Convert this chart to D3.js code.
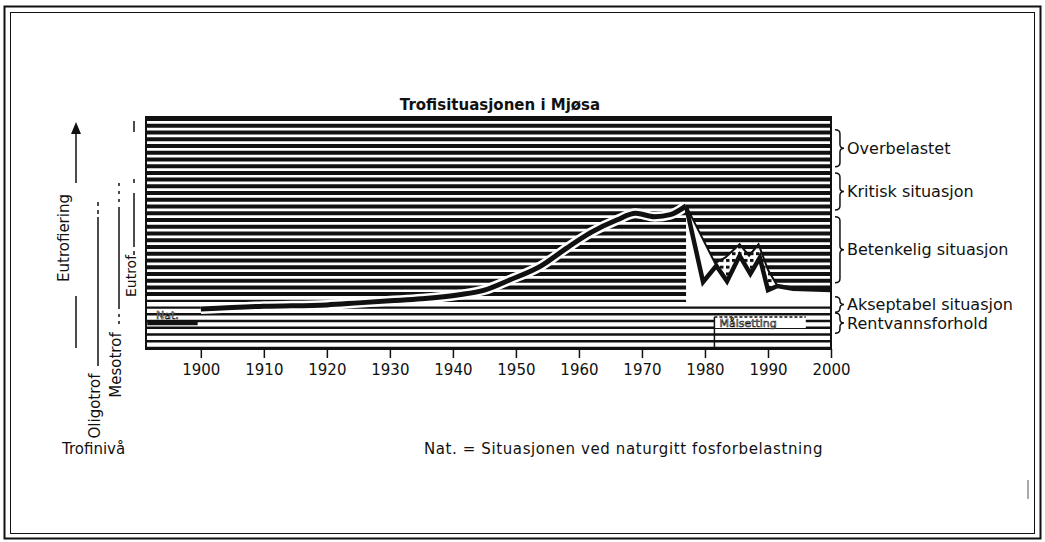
<!DOCTYPE html>
<html>
<head>
<meta charset="utf-8">
<script src="https://cdn.jsdelivr.net/npm/d3@7"></script>
<style>
  body { margin: 0; background: #fff; }
  svg { display: block; }
  text { font-family: "DejaVu Sans", sans-serif; fill: #111; }
</style>
</head>
<body>
<div id="chart"></div>
<script>
// Trophic state of lake Mjøsa.
// y values are in "hatch row" units (0 = bottom row, 34 = top row).
var years   = [1900, 1910, 1920, 1925, 1930, 1935, 1941, 1945, 1949, 1954, 1958, 1962, 1966, 1969, 1972, 1974.5, 1977];
var trophic = [5.8, 6.2, 6.4, 6.7, 7.0, 7.3, 7.9, 8.6, 10.1, 12.2, 14.8, 17.2, 19.0, 20.0, 19.5, 19.8, 21.1];

// after 1977: lower (thick) and upper (thin) lines
var lowYears  = [1977, 1979.7, 1981.8, 1983.5, 1985.5, 1987.2, 1988.7, 1990, 1991.5, 1994, 2000];
var lowVals   = [21.1, 9.8, 12.2, 9.9, 13.7, 11.0, 13.4, 8.6, 9.2, 8.8, 8.6];
var highYears = [1977, 1981.6, 1983.2, 1985.5, 1987, 1988.5, 1990, 1991.5];
var highVals  = [21.1, 12.6, 13.4, 15.4, 13.7, 15.4, 11.6, 9.2];

// natural state ("Nat.") and target ("Målsetting")
var natYears = [1891.5, 1899.5];
var natVal = 3.7;
var targetYears = [1981.5, 1996];
var targetVal = 4.6;
var clearLevel = 6.7;   // lower edge of the white field after 1977

var zones  = ["Overbelastet", "Kritisk situasjon", "Betenkelig situasjon", "Akseptabel situasjon", "Rentvannsforhold"];
var zoneLo = [26.9, 20.5, 9.7, 5.3, 2.2];
var zoneHi = [32.4, 26.0, 19.5, 7.6, 5.2];

var tickYears = [1900, 1910, 1920, 1930, 1940, 1950, 1960, 1970, 1980, 1990, 2000];

var W = 1045, H = 542;

var svg = d3.select('#chart').append('svg')
    .attr('width', W)
    .attr('height', H);

// double frame round the whole page
svg.append('rect').attr('x', 4.5).attr('y', 6.5).attr('width', 1036).attr('height', 532)
    .attr('fill', 'none').attr('stroke', '#111').attr('stroke-width', 2);
svg.append('rect').attr('x', 10.5).attr('y', 12.5).attr('width', 1024).attr('height', 521)
    .attr('fill', 'none').attr('stroke', '#111').attr('stroke-width', 1);

var x = d3.scaleLinear().domain([1891.3, 2000]).range([146, 831]);
var y = d3.scaleLinear().domain([0, 34]).range([348, 119]);

var defs = svg.append('defs');
defs.append('clipPath').attr('id', 'plotclip')
  .append('rect').attr('x', 146).attr('y', 116).attr('width', 685).attr('height', 234);

var dots = defs.append('pattern').attr('id', 'dots')
    .attr('patternUnits', 'userSpaceOnUse')
    .attr('width', 6).attr('height', y(0) - y(1))
    .attr('y', y(0) - 1.5);
dots.append('rect').attr('width', 6).attr('height', 7).attr('fill', '#fff');
dots.append('rect').attr('width', 3.5).attr('height', 3).attr('fill', '#111');

var plot = svg.append('g').attr('clip-path', 'url(#plotclip)');

// hatch rows
plot.selectAll('line.row').data(d3.range(35))
  .enter().append('line')
    .attr('class', 'row')
    .attr('x1', 146).attr('x2', 831)
    .attr('y1', function (d) { return y(d); })
    .attr('y2', function (d) { return y(d); })
    .attr('stroke', '#111')
    .attr('stroke-width', function (d) { return d <= 7 ? 2.4 : 4; });

// white field after 1977
var envYears = highYears.concat(lowYears.slice(9));
var envVals = highVals.concat(lowVals.slice(9));
plot.append('path')
    .datum(envYears.map(function (d, i) { return [d, envVals[i]]; }))
    .attr('fill', '#fff')
    .attr('d', d3.area()
        .x(function (d) { return x(d[0]); })
        .y0(y(clearLevel))
        .y1(function (d) { return y(d[1]); }));

// dotted band between the two lines in the 1980s
var bandTop = [];
highYears.forEach(function (d, i) { if (d >= 1981.6) bandTop.push([d, highVals[i]]); });
var bandBot = [];
lowYears.forEach(function (d, i) { if (d >= 1981.8 && d <= 1991.5) bandBot.push([d, lowVals[i]]); });
plot.append('path')
    .datum(bandTop.concat(bandBot.reverse()))
    .attr('fill', 'url(#dots)')
    .attr('d', d3.line()
        .x(function (d) { return x(d[0]); })
        .y(function (d) { return y(d[1]); }));

// main curve, white halo then black
var mainLine = d3.line()
    .curve(d3.curveMonotoneX)
    .x(function (d) { return x(d[0]); })
    .y(function (d) { return y(d[1]); });
var mainData = years.map(function (d, i) { return [d, trophic[i]]; });
plot.append('path').datum(mainData).attr('d', mainLine)
    .attr('fill', 'none').attr('stroke', '#fff').attr('stroke-width', 10);
plot.append('path').datum(mainData).attr('d', mainLine)
    .attr('fill', 'none').attr('stroke', '#111').attr('stroke-width', 5);

var zig = d3.line()
    .x(function (d) { return x(d[0]); })
    .y(function (d) { return y(d[1]); });
plot.append('path')
    .datum(highYears.map(function (d, i) { return [d, highVals[i]]; }))
    .attr('d', zig).attr('fill', 'none').attr('stroke', '#111').attr('stroke-width', 2);
plot.append('path')
    .datum(lowYears.map(function (d, i) { return [d, lowVals[i]]; }))
    .attr('d', zig).attr('fill', 'none').attr('stroke', '#111').attr('stroke-width', 4.5)
    .attr('stroke-linejoin', 'miter');

// Nat. level
plot.append('line')
    .attr('x1', x(natYears[0])).attr('x2', x(natYears[1]))
    .attr('y1', y(natVal)).attr('y2', y(natVal))
    .attr('stroke', '#111').attr('stroke-width', 4.5);
plot.append('text')
    .attr('x', 156).attr('y', y(natVal + 1.2) + 4)
    .style('font-size', '11px').style('fill', '#fff')
    .attr('stroke', '#111').attr('stroke-width', 0.6)
    .text('Nat.');

// Målsetting
plot.append('rect')
    .attr('x', x(targetYears[0])).attr('y', y(targetVal) - 1)
    .attr('width', x(targetYears[1]) - x(targetYears[0])).attr('height', 12)
    .attr('fill', '#fff');
plot.append('line')
    .attr('x1', x(targetYears[0])).attr('x2', x(targetYears[1]))
    .attr('y1', y(targetVal)).attr('y2', y(targetVal))
    .attr('stroke', '#111').attr('stroke-width', 1.5).attr('stroke-dasharray', '3 2');
plot.append('line')
    .attr('x1', x(targetYears[0])).attr('x2', x(targetYears[0]))
    .attr('y1', y(targetVal)).attr('y2', y(0))
    .attr('stroke', '#111').attr('stroke-width', 1.5);
plot.append('text')
    .attr('x', x(targetYears[0]) + 5).attr('y', y(targetVal) + 10)
    .style('font-size', '11px').style('fill', '#fff')
    .attr('stroke', '#111').attr('stroke-width', 0.6)
    .text('Målsetting');

// plot border
svg.append('rect').attr('x', 146).attr('y', 117).attr('width', 685).attr('height', 232)
    .attr('fill', 'none').attr('stroke', '#111').attr('stroke-width', 2);

// x axis
var xAxis = svg.append('g')
    .attr('transform', 'translate(0,349)')
    .call(d3.axisBottom(x).tickValues(tickYears).tickFormat(d3.format('d')).tickSize(9).tickPadding(6));
xAxis.select('.domain').remove();
xAxis.selectAll('line').attr('stroke', '#111').attr('stroke-width', 1.5);
xAxis.selectAll('text')
    .style('font-family', '"DejaVu Sans", sans-serif')
    .style('font-size', '15px')
    .attr('fill', '#111');

// title
svg.append('text')
    .attr('x', 500).attr('y', 110)
    .attr('text-anchor', 'middle')
    .style('font-size', '15px').style('font-weight', 'bold')
    .text('Trofisituasjonen i Mjøsa');

// zone braces and labels on the right
function brace(x0, y0, y1, w) {
  var m = (y0 + y1) / 2, xm = x0 + w * 0.55;
  return 'M' + x0 + ',' + y0 +
    ' Q' + xm + ',' + y0 + ' ' + xm + ',' + (y0 + 4) +
    ' L' + xm + ',' + (m - 4) +
    ' Q' + xm + ',' + m + ' ' + (x0 + w) + ',' + m +
    ' Q' + xm + ',' + m + ' ' + xm + ',' + (m + 4) +
    ' L' + xm + ',' + (y1 - 4) +
    ' Q' + xm + ',' + y1 + ' ' + x0 + ',' + y1;
}
var zoneG = svg.selectAll('g.zone').data(zones).enter().append('g').attr('class', 'zone');
zoneG.append('path')
    .attr('d', function (d, i) { return brace(835, y(zoneHi[i]), y(zoneLo[i]), 9); })
    .attr('fill', 'none').attr('stroke', '#111').attr('stroke-width', 1.5);
zoneG.append('text')
    .attr('x', 847)
    .attr('y', function (d, i) { return (y(zoneHi[i]) + y(zoneLo[i])) / 2; })
    .attr('dy', '0.35em')
    .style('font-size', '16px')
    .text(function (d) { return d; });

// left side: trophic levels
function vtext(txt, cx, cy, size) {
  svg.append('text')
      .attr('transform', 'translate(' + cx + ',' + cy + ') rotate(-90)')
      .attr('text-anchor', 'middle').attr('dy', '0.35em')
      .style('font-size', size + 'px')
      .text(txt);
}
function vline(x0, y0, y1, dash) {
  svg.append('line').attr('x1', x0).attr('x2', x0).attr('y1', y0).attr('y2', y1)
      .attr('stroke', '#111').attr('stroke-width', 1.5)
      .attr('stroke-dasharray', dash || null);
}
vtext('Eutrofiering', 64, 238, 15);
vline(76, 348, 296);
vline(76, 183, 131);
svg.append('path').attr('d', 'M71,134 L76,122 L81,134 Z').attr('fill', '#111');

vtext('Oligotrof', 95, 406, 15);
vline(98, 366, 217);
vline(98, 214, 199, '4 4');

vtext('Mesotrof', 116, 365, 15);
vline(119, 324, 312, '3 4');
vline(119, 309, 207);
vline(119, 202, 183, '3 5');

vtext('Eutrof', 131, 276, 14);
vline(134, 255, 251);
vline(134, 247, 193);
vline(134, 183, 179);
vline(134, 132, 121);

svg.append('text').attr('x', 62).attr('y', 454)
    .style('font-size', '15px').text('Trofinivå');
svg.append('text').attr('x', 424).attr('y', 454)
    .style('font-size', '15px').style('letter-spacing', '0.6px')
    .text('Nat. = Situasjonen ved naturgitt fosforbelastning');

// stray mark from the scan
svg.append('line').attr('x1', 1028).attr('x2', 1028).attr('y1', 480).attr('y2', 499)
    .attr('stroke', '#555').attr('stroke-width', 1);
</script>
</body>
</html>
